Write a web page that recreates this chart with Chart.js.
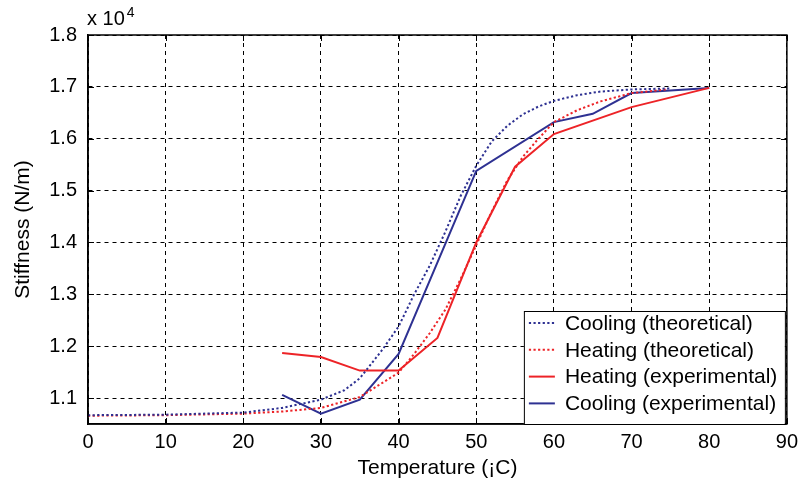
<!DOCTYPE html>
<html>
<head>
<meta charset="utf-8">
<script src="https://cdn.jsdelivr.net/npm/chart.js@4"></script>
<style>
  html, body { margin: 0; padding: 0; background: #fff; }
  #wrap { width: 804px; height: 493px; }
</style>
</head>
<body>
<div id="wrap"><canvas id="stiffness"></canvas></div>
<script>
// ---------- data (stiffness in units of 10^4 N/m) ----------
const xTicks = [0, 10, 20, 30, 40, 50, 60, 70, 80, 90];
const yTicks = [1.1, 1.2, 1.3, 1.4, 1.5, 1.6, 1.7, 1.8];

const coolTheoT = [0, 10, 20, 25, 30, 33, 35, 38, 40, 42, 44, 46, 48, 50, 52, 54, 56, 58, 60, 63, 66, 70, 75];
const coolTheoK = [1.067, 1.068, 1.072, 1.081, 1.097, 1.115, 1.138, 1.195, 1.238, 1.30, 1.355, 1.42, 1.49, 1.548, 1.595, 1.625, 1.647, 1.662, 1.673, 1.684, 1.691, 1.695, 1.697];

const heatTheoT = [0, 10, 20, 25, 30, 35, 40, 42, 44, 46, 48, 50, 52, 54, 56, 58, 60, 63, 66, 70, 74.5];
const heatTheoK = [1.066, 1.067, 1.070, 1.074, 1.081, 1.102, 1.149, 1.185, 1.225, 1.27, 1.33, 1.395, 1.46, 1.52, 1.565, 1.60, 1.632, 1.655, 1.672, 1.688, 1.695];

const heatExpT = [25, 30, 35, 40, 45, 50, 55, 60, 70, 80];
const heatExpK = [1.187, 1.179, 1.153, 1.153, 1.216, 1.40, 1.546, 1.609, 1.661, 1.698];

const coolExpT = [25, 30, 35, 40, 50, 60, 65, 70, 80];
const coolExpK = [1.106, 1.070, 1.097, 1.185, 1.538, 1.632, 1.648, 1.688, 1.698];

const BLUE = '#2e3192';
const RED = '#ed2327';
const FONT = '"Liberation Sans", Arial, Helvetica, sans-serif';

function toPoints(xs, ys) {
    return xs.map((x, i) => ({ x: x, y: ys[i] }));
}

// ---------- frame, inward ticks, exponent label, legend ----------
const matlabFrame = {
    id: 'matlabFrame',
    afterDraw(chart) {
        const ctx = chart.ctx;
        const area = chart.chartArea;
        const xs = chart.scales.x;
        const ys = chart.scales.y;

        ctx.save();
        ctx.strokeStyle = '#000';
        ctx.lineWidth = 1.5;
        ctx.setLineDash([]);
        ctx.strokeRect(area.left, area.top, area.right - area.left, area.bottom - area.top);

        // inward ticks on all four sides
        ctx.lineWidth = 1;
        ctx.beginPath();
        xTicks.forEach(v => {
            const px = Math.round(xs.getPixelForValue(v)) + 0.5;
            ctx.moveTo(px, area.bottom); ctx.lineTo(px, area.bottom - 6);
            ctx.moveTo(px, area.top); ctx.lineTo(px, area.top + 6);
        });
        yTicks.forEach(v => {
            const py = Math.round(ys.getPixelForValue(v)) + 0.5;
            ctx.moveTo(area.left, py); ctx.lineTo(area.left + 6, py);
            ctx.moveTo(area.right, py); ctx.lineTo(area.right - 6, py);
        });
        ctx.stroke();

        // x 10^4
        ctx.fillStyle = '#000';
        ctx.textAlign = 'left';
        ctx.textBaseline = 'alphabetic';
        ctx.font = '20px ' + FONT;
        ctx.fillText('x 10', area.left - 1, area.top - 10);
        const w = ctx.measureText('x 10').width;
        ctx.font = '14px ' + FONT;
        ctx.fillText('4', area.left + w + 1, area.top - 18);

        // legend box in lower right corner
        const boxW = 261, boxH = 113;
        const bx = area.right - 2 - boxW;
        const by = area.bottom - boxH;
        ctx.fillStyle = '#fff';
        ctx.fillRect(bx, by, boxW, boxH);
        ctx.strokeStyle = '#000';
        ctx.lineWidth = 1;
        ctx.strokeRect(bx + 0.5, by + 0.5, boxW, boxH);

        ctx.font = '21px ' + FONT;
        ctx.textBaseline = 'middle';
        chart.data.datasets.forEach((ds, i) => {
            const cy = by + 12 + i * 26.8;
            ctx.strokeStyle = ds.borderColor;
            ctx.lineWidth = ds.borderWidth;
            ctx.setLineDash(ds.borderDash || []);
            ctx.beginPath();
            ctx.moveTo(bx + 5, cy);
            ctx.lineTo(bx + 31, cy);
            ctx.stroke();
            ctx.setLineDash([]);
            ctx.fillStyle = '#000';
            ctx.fillText(ds.label, bx + 41, cy + 1);
        });
        ctx.restore();
    }
};

const ctx = document.getElementById('stiffness').getContext('2d');

new Chart(ctx, {
    type: 'scatter',
    data: {
        datasets: [
            {
                label: 'Cooling (theoretical)',
                data: toPoints(coolTheoT, coolTheoK),
                borderColor: BLUE,
                borderWidth: 2,
                borderDash: [2.2, 2.4],
                showLine: true,
                pointRadius: 0,
                tension: 0
            },
            {
                label: 'Heating (theoretical)',
                data: toPoints(heatTheoT, heatTheoK),
                borderColor: RED,
                borderWidth: 2,
                borderDash: [2.2, 2.4],
                showLine: true,
                pointRadius: 0,
                tension: 0
            },
            {
                label: 'Heating (experimental)',
                data: toPoints(heatExpT, heatExpK),
                borderColor: RED,
                borderWidth: 2,
                showLine: true,
                pointRadius: 0,
                tension: 0
            },
            {
                label: 'Cooling (experimental)',
                data: toPoints(coolExpT, coolExpK),
                borderColor: BLUE,
                borderWidth: 2,
                showLine: true,
                pointRadius: 0,
                tension: 0
            }
        ]
    },
    options: {
        responsive: true,
        maintainAspectRatio: false,
        animation: false,
        layout: { padding: { top: 35, right: 13, left: 0, bottom: 0 } },
        plugins: {
            legend: { display: false },
            tooltip: { enabled: false }
        },
        scales: {
            x: {
                type: 'linear',
                min: 0,
                max: 90,
                afterBuildTicks: s => { s.ticks = xTicks.map(v => ({ value: v })); },
                afterFit: s => { s.height = 69; },
                grid: { color: '#000', lineWidth: 1, drawTicks: false },
                border: { display: true, color: '#000', width: 1.5, dash: [4, 4] },
                ticks: { color: '#000', padding: 6, maxRotation: 0, font: { family: FONT, size: 20 } },
                title: {
                    display: true,
                    text: 'Temperature (¡C)',
                    color: '#000',
                    font: { family: FONT, size: 21 },
                    padding: { top: 0, bottom: 12 }
                }
            },
            y: {
                type: 'linear',
                min: 1.05,
                max: 1.8,
                afterBuildTicks: s => { s.ticks = yTicks.map(v => ({ value: v })); },
                afterFit: s => { s.width = 88; },
                grid: { color: '#000', lineWidth: 1, drawTicks: false },
                border: { display: true, color: '#000', width: 1.5, dash: [4, 4] },
                ticks: {
                    color: '#000',
                    padding: 11,
                    font: { family: FONT, size: 20 },
                    callback: v => v.toFixed(1)
                },
                title: {
                    display: true,
                    text: 'Stiffness (N/m)',
                    color: '#000',
                    font: { family: FONT, size: 21 },
                    padding: { top: 11, bottom: 0 }
                }
            }
        }
    },
    plugins: [matlabFrame]
});
</script>
</body>
</html>
